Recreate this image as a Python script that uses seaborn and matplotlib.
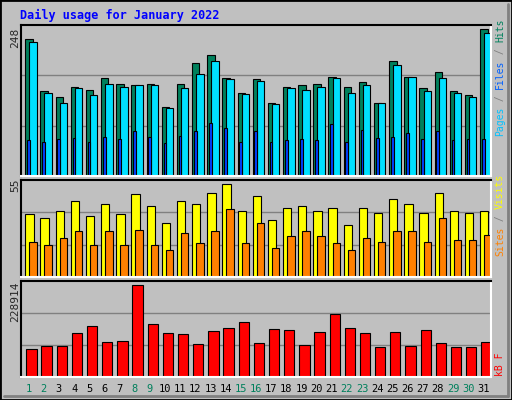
import numpy as np
import pandas as pd
import matplotlib
matplotlib.use('Agg')
import matplotlib.pyplot as plt
import seaborn as sns

days = list(range(1, 32))
weekend = [1, 2, 8, 9, 15, 16, 22, 23, 29, 30]
hits = [231, 143, 133, 151, 146, 166, 156, 153, 156, 116, 156, 191, 204, 166, 141, 164,
        123, 151, 153, 156, 168, 151, 158, 124, 194, 168, 148, 176, 143, 136, 248]
files = [226, 141, 123, 149, 136, 156, 151, 153, 154, 114, 148, 173, 194, 163, 139, 161,
         121, 148, 146, 151, 166, 141, 154, 123, 188, 168, 144, 166, 141, 134, 241]
pages = [61, 58, 63, 64, 58, 66, 63, 76, 66, 56, 68, 76, 89, 81, 58, 76,
         58, 61, 63, 61, 88, 58, 78, 64, 66, 73, 63, 76, 61, 63, 63]
visits = [37, 35, 39, 45, 36, 43, 37, 49, 42, 32, 45, 43, 50, 55, 39, 48,
          34, 41, 42, 39, 41, 31, 41, 38, 46, 43, 38, 50, 39, 38, 39]
sites = [21, 19, 23, 27, 19, 27, 19, 28, 19, 16, 26, 20, 27, 40, 20, 32,
         17, 24, 27, 24, 20, 16, 23, 21, 27, 27, 21, 35, 22, 22, 25]
kbytes = [68500, 76000, 76000, 108500, 126000, 86000, 88500, 228914, 131000, 108500,
          106000, 81000, 113500, 121000, 136000, 83500, 118500, 116000, 78500, 111000,
          156000, 121000, 108500, 73500, 111000, 76000, 116000, 83500, 73500, 73500, 86000]

df = pd.DataFrame({'day': days, 'hits': hits, 'files': files, 'pages': pages,
                   'visits': visits, 'sites': sites, 'kbytes': kbytes})

sns.set_style('white')
plt.rcParams['font.family'] = ['DejaVu Sans Mono']

W, H = 512, 400
fig = plt.figure(figsize=(W / 100, H / 100), dpi=100, facecolor='#c0c0c0')

# outer bevel
fig.add_artist(plt.Rectangle((0, 0), 1, 1, transform=fig.transFigure, fill=False,
                             edgecolor='black', lw=2))
fig.add_artist(plt.Line2D([4 / W, 1 - 4 / W], [4 / H, 4 / H], color='#808080', lw=2))
fig.add_artist(plt.Line2D([1 - 4 / W, 1 - 4 / W], [4 / H, 1 - 4 / H], color='#808080', lw=2))

fig.text(20 / W, 1 - 15 / H, 'Daily usage for January 2022', color='#0000ff',
         fontsize=8.5, fontweight='bold', va='center', ha='left')


def make_ax(top, bottom, ymax):
    ax = fig.add_axes([21 / W, 1 - bottom / H, 470 / W, (bottom - top) / H])
    ax.set_facecolor('#c0c0c0')
    ax.set_xlim(0.5, 31.5)
    ax.set_ylim(0, ymax)
    for y in (ymax / 3, 2 * ymax / 3):
        ax.axhline(y, color='#808080', lw=1, zorder=0)
    ax.set_xticks([])
    ax.set_yticks([])
    ax.spines['left'].set_color('black')
    ax.spines['top'].set_color('black')
    ax.spines['right'].set_color('white')
    ax.spines['bottom'].set_color('white')
    for s in ax.spines.values():
        s.set_linewidth(1.5)
    return ax


def bars(ax, col, off, width, color):
    ax.bar(df['day'] - 0.5 + off, df[col], width=width, align='edge', color=color,
           edgecolor='black', linewidth=0.8, zorder=2)


ax1 = make_ax(25, 176, 255)
bars(ax1, 'hits', 0.28, 0.49, '#00805c')
bars(ax1, 'files', 0.55, 0.49, '#00e0ff')
bars(ax1, 'pages', 0.40, 0.18, '#0040ff')

ax2 = make_ax(180, 277, 57.4)
bars(ax2, 'visits', 0.28, 0.55, '#ffff00')
bars(ax2, 'sites', 0.55, 0.49, '#ff8000')

ax3 = make_ax(281, 377, 238100)
bars(ax3, 'kbytes', 0.35, 0.68, '#ff0000')

# left max labels
for y, txt in [(28, '248'), (179, '55'), (282, '228914')]:
    fig.text(15 / W, 1 - y / H, txt, rotation=90, ha='center', va='top', fontsize=8)

# right legends
def rlabel(ybottom, parts):
    y = 1 - ybottom / H
    for txt, color in parts:
        t = fig.text(500 / W, y, txt, rotation=90, ha='center', va='bottom',
                     fontsize=7, color=color)
        fig.canvas.draw()
        bb = t.get_window_extent()
        y += bb.height / H


rlabel(136, [('Pages', '#00c0ff'), (' / ', '#808080'), ('Files', '#0060ff'),
             (' / ', '#808080'), ('Hits', '#00805c')])
rlabel(256, [('Sites', '#ff8000'), (' / ', '#808080'), ('Visits', '#ffff00')])
rlabel(376, [('kB F', '#ff0000')])

for d in days:
    x = (21 + (d - 0.5) * 470 / 31) / W
    fig.text(x, 1 - 389 / H, str(d), ha='center', va='center', fontsize=7.5,
             color='#00805c' if d in weekend else 'black')

fig.savefig('out.png', dpi=100, facecolor=fig.get_facecolor())
